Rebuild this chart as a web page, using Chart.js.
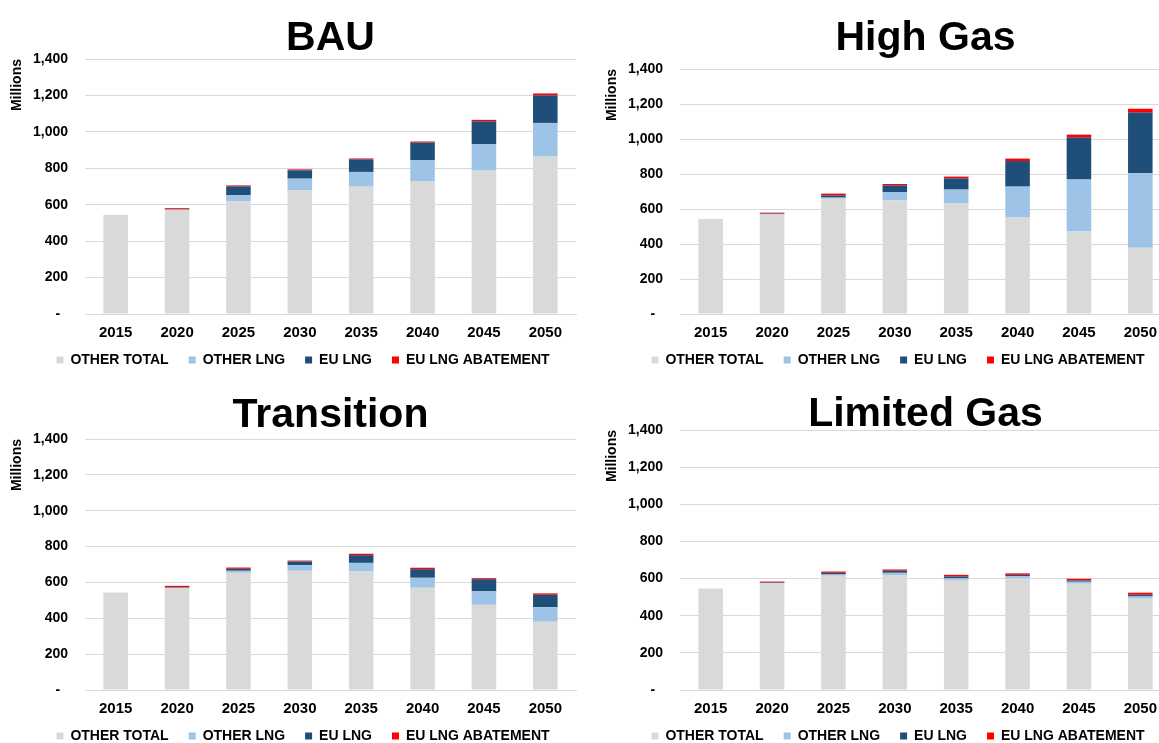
<!DOCTYPE html>
<html>
<head>
<meta charset="utf-8">
<script src="https://cdn.jsdelivr.net/npm/chart.js@4.4.1/dist/chart.umd.min.js"></script>
<style>
  html, body { margin: 0; padding: 0; background: #fff; overflow: hidden; width: 1159px; height: 743px; }
  canvas { position: absolute; }
</style>
</head>
<body>
<canvas id="bau" width="606" height="387" style="left:0px;top:0px"></canvas>
<canvas id="highGas" width="606" height="387" style="left:595px;top:0px"></canvas>
<canvas id="transition" width="606" height="388" style="left:0px;top:375px"></canvas>
<canvas id="limitedGas" width="606" height="388" style="left:595px;top:375px"></canvas>
<script>
// Years on the category axis
const years = ['2015', '2020', '2025', '2030', '2035', '2040', '2045', '2050'];
const seriesNames = ['OTHER TOTAL', 'OTHER LNG', 'EU LNG', 'EU LNG ABATEMENT'];
const yTickStep = 200;
const yMax = 1400;

// BAU scenario (millions)
const bauOtherTotal = [545, 573, 619, 679, 699, 727, 787, 864];
const bauOtherLng   = [0, 0, 34, 64, 81, 117, 146, 185];
const bauEuLng      = [0, 3, 48, 46, 69, 97, 125, 151];
const bauAbatement  = [0, 5, 5, 5, 5, 6, 8, 11];

// High Gas scenario
const hgOtherTotal = [543, 571, 659, 650, 631, 551, 471, 379];
const hgOtherLng   = [0, 0, 6, 47, 80, 177, 297, 425];
const hgEuLng      = [0, 3, 13, 38, 64, 146, 240, 347];
const hgAbatement  = [0, 5, 10, 8, 10, 14, 17, 22];

// Transition scenario
const trOtherTotal = [544, 570, 654, 665, 661, 570, 475, 381];
const trOtherLng   = [0, 0, 11, 31, 48, 56, 77, 81];
const trEuLng      = [0, 4, 11, 21, 43, 48, 66, 69];
const trAbatement  = [0, 7, 7, 5, 8, 8, 6, 8];

// Limited Gas scenario
const lgOtherTotal = [547, 576, 615, 619, 592, 601, 572, 492];
const lgOtherLng   = [0, 0, 7, 12, 11, 12, 11, 12];
const lgEuLng      = [0, 3, 9, 11, 8, 7, 7, 9];
const lgAbatement  = [0, 5, 7, 7, 9, 8, 9, 11];

const seriesColors = ['#d9d9d9', '#9dc3e6', '#1f4e79', '#ff0000'];
const FONT = '"Liberation Sans", Arial, Helvetica, sans-serif';

// Big panel heading, centred over the plot area
const panelTitle = {
  id: 'panelTitle',
  afterDraw(chart, args, opts) {
    const { ctx, chartArea } = chart;
    ctx.save();
    ctx.font = 'bold 41px ' + FONT;
    ctx.fillStyle = '#000';
    ctx.textAlign = 'center';
    ctx.textBaseline = 'alphabetic';
    ctx.fillText(opts.text, (chartArea.left + chartArea.right) / 2, opts.baseline);
    ctx.restore();
  }
};

// Let the legend row centre across the whole canvas width and sit a little
// closer to the year labels
const legendSpan = {
  id: 'legendSpan',
  afterLayout(chart, args, opts) {
    const lg = chart.legend;
    if (!lg) return;
    lg.left = 0;
    lg.right = chart.width;
    lg.width = chart.width;
    lg.top -= opts.lift;
    lg.bottom -= opts.lift;
  }
};

function buildPanel(canvasId, title, titleBaseline, topPad, series) {
  const datasets = series.map((values, i) => ({
    label: seriesNames[i],
    data: values,
    backgroundColor: seriesColors[i],
    borderWidth: 0,
    barPercentage: 0.4,
    categoryPercentage: 1.0
  }));
  return new Chart(document.getElementById(canvasId), {
    type: 'bar',
    data: { labels: years, datasets },
    plugins: [panelTitle, legendSpan],
    options: {
      responsive: false,
      animation: false,
      events: [],
      layout: { padding: { top: topPad, left: 0, right: 30, bottom: 0 } },
      scales: {
        x: {
          stacked: true,
          grid: { display: false, drawTicks: false },
          border: { color: '#d9d9d9', width: 1 },
          ticks: { padding: 10, color: '#000', maxRotation: 0, font: { family: FONT, size: 15, weight: 'bold' } },
          afterFit: s => { s.height = 29; }
        },
        y: {
          stacked: true,
          min: 0,
          max: yMax,
          grid: { color: '#d9d9d9', lineWidth: 1, drawTicks: false },
          border: { display: false },
          ticks: {
            stepSize: yTickStep,
            padding: 17,
            color: '#000',
            font: { family: FONT, size: 14, weight: 'bold' },
            callback: v => v === 0 ? '-  ' : v.toLocaleString('en-US')
          },
          title: {
            display: true,
            text: 'Millions',
            align: 'end',
            color: '#000',
            font: { family: FONT, size: 14, weight: 'bold' },
            padding: { top: 9, bottom: 0 }
          },
          afterFit: s => { s.width = 85; }
        }
      },
      plugins: {
        tooltip: { enabled: false },
        title: { display: false },
        panelTitle: { text: title, baseline: titleBaseline },
        legendSpan: { lift: 10 },
        legend: {
          position: 'bottom',
          labels: {
            boxWidth: 7,
            boxHeight: 7,
            padding: 20,
            color: '#000',
            font: { family: FONT, size: 14, weight: 'bold' }
          }
        }
      }
    }
  });
}

buildPanel('bau', 'BAU', 50, 59, [bauOtherTotal, bauOtherLng, bauEuLng, bauAbatement]);
buildPanel('highGas', 'High Gas', 50, 69, [hgOtherTotal, hgOtherLng, hgEuLng, hgAbatement]);
buildPanel('transition', 'Transition', 52, 64, [trOtherTotal, trOtherLng, trEuLng, trAbatement]);
buildPanel('limitedGas', 'Limited Gas', 51, 55, [lgOtherTotal, lgOtherLng, lgEuLng, lgAbatement]);
</script>
</body>
</html>
